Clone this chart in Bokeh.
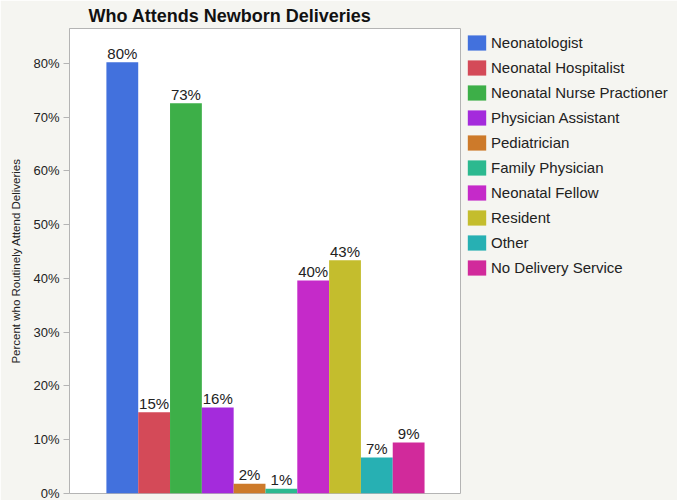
from bokeh.plotting import figure
from bokeh.models import (ColumnDataSource, Range1d, FixedTicker, PrintfTickFormatter,
                          Legend, LegendItem, Title)
from bokeh.core.properties import value
from bokeh.embed import file_html
from bokeh.resources import INLINE

categories = ["Neonatologist", "Neonatal Hospitalist", "Neonatal Nurse Practioner",
              "Physician Assistant", "Pediatrician", "Family Physician",
              "Neonatal Fellow", "Resident", "Other", "No Delivery Service"]
values = [80.2, 15.1, 72.6, 16.0, 1.8, 0.9, 39.6, 43.4, 6.7, 9.5]
labels = ["80%", "15%", "73%", "16%", "2%", "1%", "40%", "43%", "7%", "9%"]
colors = ["#4271dd", "#d44a58", "#3daf48", "#a42bdc", "#cd7a2a",
          "#2cb98f", "#c52ac9", "#c4bd2d", "#27b0b3", "#d12a9b"]
y_ticks = [0, 10, 20, 30, 40, 50, 60, 70, 80]
title_text = "Who Attends Newborn Deliveries"

FONT = "Liberation Sans"
TXT = "#222222"
BG = "#f5f5f1"

src = ColumnDataSource(dict(x=list(range(len(categories))), top=values,
                            label=labels, color=colors, name=categories))

p = figure(frame_width=391, frame_height=465, output_backend="svg", toolbar_location=None,
           x_range=Range1d(-1.66, 10.63), y_range=Range1d(0, 86.5),
           x_axis_location=None, min_border_left=69, min_border_right=0,
           min_border_top=28, min_border_bottom=7)

p.title = Title(text=title_text, text_font=FONT,
                text_font_size="18px", text_font_style="bold", text_color="#111111",
                align="left", offset=19, standoff=6)

p.background_fill_color = "white"
p.border_fill_color = BG
p.outline_line_color = "#b4b4b4"
p.grid.visible = False

renderers = []
for i in range(len(categories)):
    r = p.vbar(x=[src.data["x"][i]], top=[values[i]], width=1.0,
               fill_color=colors[i], line_color=None)
    renderers.append(r)

p.text(x="x", y="top", text="label", source=src, text_align="center",
       text_baseline="middle", y_offset=-9, text_font_size="15px",
       text_color=TXT, text_font=value(FONT))

ax = p.yaxis[0]
ax.ticker = FixedTicker(ticks=y_ticks)
ax.formatter = PrintfTickFormatter(format="%d%%")
ax.axis_label = "Percent who Routinely Attend Deliveries"
ax.axis_label_text_font = FONT
ax.axis_label_text_font_size = "11.5px"
ax.axis_label_text_font_style = "normal"
ax.axis_label_text_color = TXT
ax.axis_label_standoff = 8
ax.major_label_text_font = FONT
ax.major_label_text_font_size = "13px"
ax.major_label_text_color = TXT
ax.major_label_standoff = 4
ax.major_tick_out = 6
ax.major_tick_in = 0
ax.minor_tick_line_color = None
ax.major_tick_line_color = "#b4b4b4"
ax.axis_line_color = "#b4b4b4"

legend = Legend(items=[LegendItem(label=categories[i], renderers=[renderers[i]])
                       for i in range(len(categories))],
                location="top_left", padding=0, margin=5, spacing=6,
                glyph_width=23, glyph_height=19, label_height=19, label_standoff=3,
                label_text_font=FONT, label_text_font_size="15px",
                label_text_color=TXT, border_line_color=None,
                background_fill_alpha=0)
p.add_layout(legend, "right")

open("out.html", "w").write(file_html(p, INLINE))
